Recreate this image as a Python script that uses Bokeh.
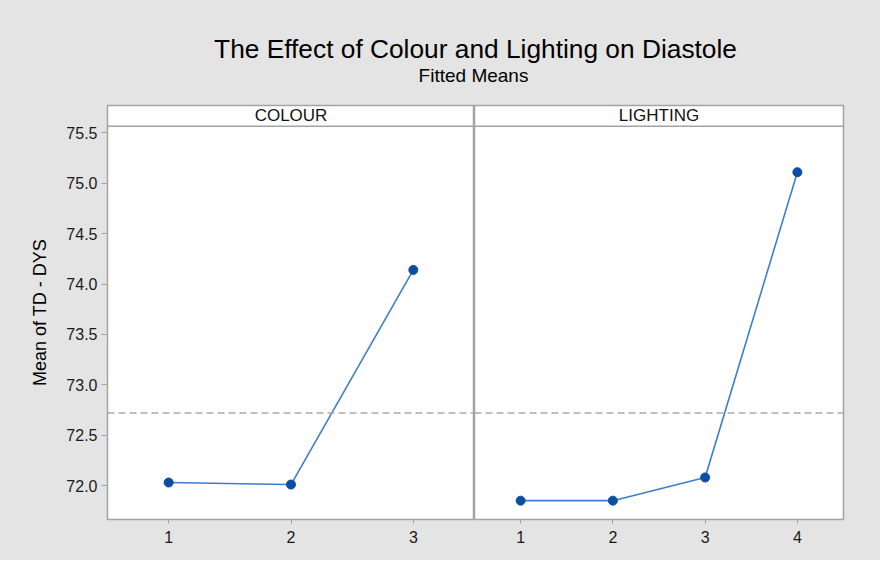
from bokeh.plotting import figure
from bokeh.models import Range1d, FixedTicker, Span, Label, ColumnDataSource, PrintfTickFormatter
from bokeh.layouts import column, row
from bokeh.embed import file_html
from bokeh.resources import INLINE

# ---- data ----
colour_levels = [1, 2, 3]
colour_means = [72.03, 72.01, 74.14]
lighting_levels = [1, 2, 3, 4]
lighting_means = [71.85, 71.85, 72.08, 75.11]
grand_mean = 72.72
y_ticks = [72.0, 72.5, 73.0, 73.5, 74.0, 74.5, 75.0, 75.5]
panel_names = ["COLOUR", "LIGHTING"]

# ---- style ----
BG = "#e4e4e4"
FRAME = "#a3a3a3"
LINE_BLUE = "#3c7fcc"
MARK_BLUE = "#0a4fa3"
FONT = "Liberation Sans"

y_bottom, hdr_bottom, y_top = 71.663, 75.566, 75.772
yr = Range1d(y_bottom, y_top)

LEFT_W, RIGHT_W = 474, 406
PANEL_H = 457


def make_panel(levels, means, name, show_y, width, b_left, b_right):
    x_end = len(levels) + 0.5
    p = figure(width=width, height=PANEL_H, x_range=Range1d(0.5, x_end), y_range=yr,
               output_backend="svg", toolbar_location=None,
               min_border_left=b_left, min_border_right=b_right,
               min_border_top=2, min_border_bottom=41,
               y_axis_location="left" if show_y else None)
    p.background_fill_color = "white"
    p.border_fill_color = BG
    p.outline_line_color = FRAME
    p.outline_line_width = 1.5
    p.grid.visible = False
    p.styles = {"background-color": BG}

    p.xaxis.ticker = FixedTicker(ticks=levels)
    p.xaxis.axis_line_color = FRAME
    p.xaxis.major_tick_line_color = FRAME
    p.xaxis.major_tick_out = 4
    p.xaxis.major_tick_in = 0
    p.xaxis.minor_tick_line_color = None
    p.xaxis.major_label_standoff = 7
    p.xaxis.major_label_text_font = FONT
    p.xaxis.major_label_text_font_size = "16px"
    p.xaxis.major_label_text_color = "#1a1a1a"

    if show_y:
        p.yaxis.ticker = FixedTicker(ticks=y_ticks)
        p.yaxis.formatter = PrintfTickFormatter(format="%.1f")
        p.yaxis.axis_line_color = FRAME
        p.yaxis.major_tick_line_color = FRAME
        p.yaxis.major_tick_out = 6
        p.yaxis.major_tick_in = 0
        p.yaxis.minor_tick_line_color = None
        p.yaxis.major_label_standoff = 4
        p.yaxis.major_label_text_font = FONT
        p.yaxis.major_label_text_font_size = "16px"
        p.yaxis.major_label_text_color = "#1a1a1a"
        p.yaxis.axis_label = "Mean of TD - DYS"
        p.yaxis.axis_label_text_font = FONT
        p.yaxis.axis_label_text_font_size = "18px"
        p.yaxis.axis_label_text_font_style = "normal"
        p.yaxis.axis_label_text_color = "#000000"
        p.yaxis.axis_label_standoff = 13

    p.add_layout(Span(location=grand_mean, dimension="width", line_color="#ababab",
                      line_width=1.5, line_dash="7 4"))
    p.add_layout(Span(location=hdr_bottom, dimension="width", line_color=FRAME,
                      line_width=1.5))
    p.add_layout(Label(x=(0.5 + x_end) / 2, y=(hdr_bottom + y_top) / 2, text=name,
                       text_align="center", text_baseline="middle",
                       text_font=FONT, text_font_size="17px", text_color="#111111"))

    src = ColumnDataSource(dict(x=levels, y=means))
    p.line("x", "y", source=src, line_color=LINE_BLUE, line_width=1.6)
    p.scatter("x", "y", source=src, size=9, marker="circle",
              fill_color=MARK_BLUE, line_color=MARK_BLUE)
    return p


left = make_panel(colour_levels, colour_means, panel_names[0], True, LEFT_W, 107, 0)
right = make_panel(lighting_levels, lighting_means, panel_names[1], False, RIGHT_W, 0, 37)

TW, TH = LEFT_W + RIGHT_W, 103
t = figure(width=TW, height=TH, x_range=Range1d(0, TW), y_range=Range1d(0, TH),
           output_backend="svg", toolbar_location=None,
           min_border_left=0, min_border_right=0, min_border_top=0, min_border_bottom=0,
           x_axis_location=None, y_axis_location=None)
t.outline_line_color = None
t.background_fill_color = BG
t.border_fill_color = BG
t.grid.visible = False
t.styles = {"background-color": BG}
t.add_layout(Label(x=475, y=TH - 48, text="The Effect of Colour and Lighting on Diastole",
                   text_align="center", text_baseline="alphabetic",
                   text_font=FONT, text_font_size="26.3px", text_color="#000000"))
t.add_layout(Label(x=473, y=TH - 75, text="Fitted Means",
                   text_align="center", text_baseline="alphabetic",
                   text_font=FONT, text_font_size="19px", text_color="#000000"))

r = row(left, right, styles={"background-color": BG})
layout = column(t, r, styles={"background-color": BG})
open("out.html", "w").write(file_html(layout, INLINE))
